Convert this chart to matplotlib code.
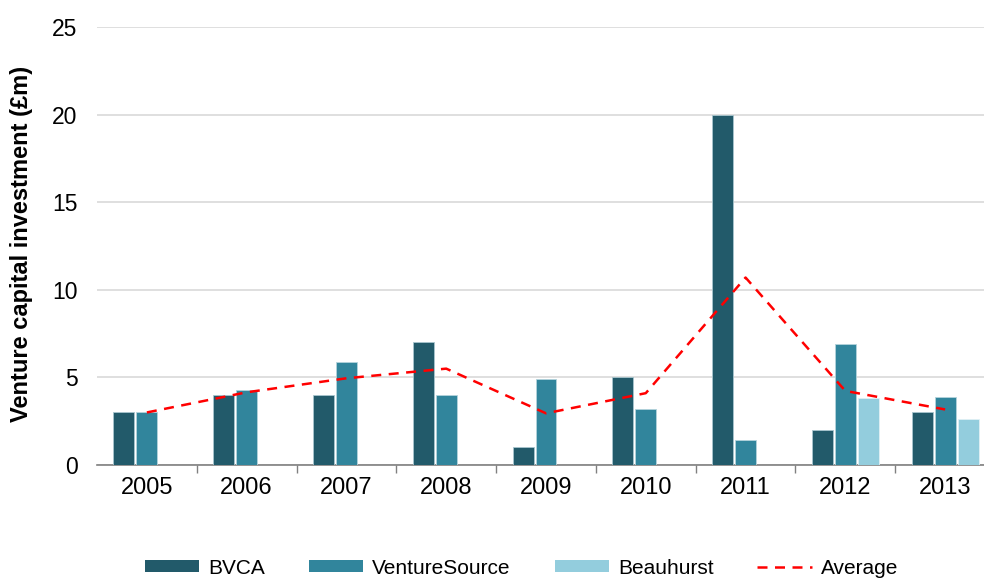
import matplotlib
matplotlib.use("Agg")
import matplotlib.pyplot as plt
from matplotlib.patches import Patch
from matplotlib.lines import Line2D
import numpy as np

plt.rcParams['font.family'] = ['Liberation Sans', 'DejaVu Sans']

years = ['2005', '2006', '2007', '2008', '2009', '2010', '2011', '2012', '2013']
bvca = [3, 4, 4, 7, 1, 5, 20, 2, 3]
venturesource = [3, 4.3, 5.9, 4, 4.9, 3.2, 1.4, 6.9, 3.9]
beauhurst = [0, 0, 0, 0, 0, 0, 0, 3.8, 2.6]
average = [3, 4.15, 4.95, 5.5, 2.95, 4.1, 10.7, 4.23, 3.17]

c_bvca = '#225a6a'
c_vs = '#31859c'
c_bh = '#93cddd'

fig = plt.figure(figsize=(9.84, 5.81), dpi=100)
ax = fig.add_axes([97/984, (581-465)/581, 898/984, (465-27)/581])

x = np.arange(len(years))
off = 0.23
w = 0.21
ax.bar(x - off, bvca, w, color=c_bvca, edgecolor='#a9c6cf', linewidth=0.6, zorder=3)
ax.bar(x, venturesource, w, color=c_vs, edgecolor='#b4d3dc', linewidth=0.6, zorder=3)
bh_x = [xi + off for xi, v in zip(x, beauhurst) if v > 0]
bh_v = [v for v in beauhurst if v > 0]
ax.bar(bh_x, bh_v, w, color=c_bh, edgecolor='#e0f0f5', linewidth=0.6, zorder=3)
ax.plot(x, average, color='#ff0000', linestyle=(0, (4, 3)), linewidth=1.8, zorder=4)

ax.set_xlim(-0.5, len(years) - 0.5)
ax.set_ylim(0, 25)
ax.set_yticks([0, 5, 10, 15, 20, 25])
ax.yaxis.grid(True, color='#d9d9d9', linewidth=1.2, zorder=0)
ax.set_axisbelow(True)
for s in ['top', 'right', 'left']:
    ax.spines[s].set_visible(False)
ax.spines['bottom'].set_color('#808080')
ax.spines['bottom'].set_linewidth(1.2)
ax.tick_params(axis='y', length=0, labelsize=16.5, pad=14)
ax.set_xticks(x)
ax.set_xticklabels(years, fontsize=17)
ax.tick_params(axis='x', length=0, pad=9)
ax.set_xticks(np.arange(0.5, len(years) - 0.5, 1), minor=True)
ax.tick_params(axis='x', which='minor', length=6, color='#808080', direction='out', width=1)
ax.set_ylabel('Venture capital investment (£m)', fontsize=17, fontweight='bold')
ax.yaxis.set_label_coords(-0.071, 0.505)

handles = [Patch(facecolor=c_bvca), Patch(facecolor=c_vs), Patch(facecolor=c_bh),
           Line2D([0], [0], color='#ff0000', linestyle=(0, (4, 3)), linewidth=1.8)]
fig.legend(handles, ['BVCA', 'VentureSource', 'Beauhurst', 'Average'], loc='center',
           bbox_to_anchor=(0.53, 0.022), ncol=4, frameon=False, fontsize=15,
           handlelength=2.6, handleheight=0.5, columnspacing=2.1, handletextpad=0.45)

fig.savefig('out.png', dpi=100)
